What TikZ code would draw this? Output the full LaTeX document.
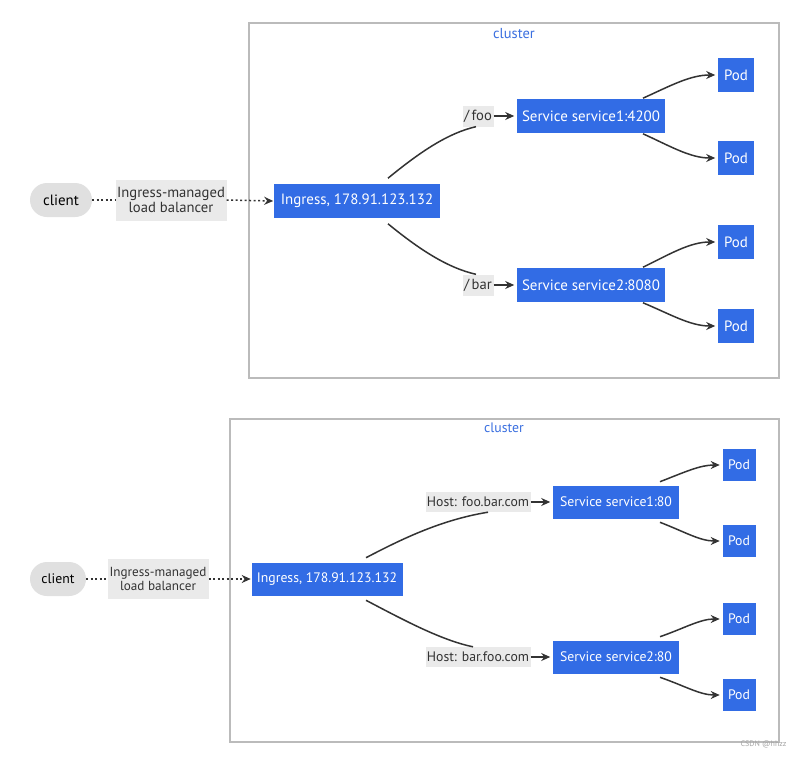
\documentclass[tikz,border=0pt]{standalone}
\usepackage{fontspec}
\setmainfont{PT Sans}
\usetikzlibrary{arrows.meta}
\definecolor{kblue}{HTML}{326CE5}
\definecolor{clabel}{HTML}{3A6FE0}
\definecolor{edgec}{HTML}{333333}
\definecolor{lblbg}{HTML}{EAEAEA}
\definecolor{clientbg}{HTML}{E0E0E0}
\definecolor{clborder}{HTML}{BBBBBB}
\tikzset{
  clusterbox/.style={draw=clborder, line width=1.3bp, fill=white},
  clustertitle/.style={text=clabel, font=\fontsize{14.5}{16}\selectfont},
  kbox/.style={fill=kblue, draw=white, line width=0.6bp, text=white, inner sep=0pt, minimum height=35bp, font=\fontsize{15}{17}\selectfont},
  podbox/.style={kbox, minimum width=37bp},
  clientbox/.style={fill=clientbg, rounded corners=17bp, inner sep=0pt, minimum height=34bp, text=black, font=\fontsize{15}{17}\selectfont},
  elabel/.style={fill=lblbg, inner sep=1bp, text=edgec, font=\fontsize{14.7}{15.5}\selectfont, align=center},
  small/.style={font=\fontsize{13.8}{15}\selectfont},
  smalllbl/.style={font=\fontsize{13.2}{14.5}\selectfont},
  conn/.style={draw=edgec, line width=1.5bp},
  arr/.style={conn, -{Stealth[length=9bp,width=8bp]}},
  dotconn/.style={draw=edgec, line width=1.5bp, dash pattern=on 2bp off 2.5bp},
}
\begin{document}
\begin{tikzpicture}[x=1bp,y=-1bp]
\useasboundingbox (0,0) rectangle (806,757);
\fill[white] (0,0) rectangle (806,757);

% ================= TOP DIAGRAM =================
\draw[clusterbox] (249,23) rectangle (779,378);
\node[clustertitle] (ct1) at (514,34) {cluster};

\node[clientbox, minimum width=62bp] (c1) at (61,200) {client};
\node[elabel, minimum width=111bp, minimum height=41bp] (lb1) at (171,200) {Ingress-managed\\load balancer};
\node[kbox, minimum width=167bp] (ing1) at (357,201) {Ingress, 178.91.123.132};

\node[kbox, minimum width=149bp] (s11) at (591,116) {Service service1:4200};
\node[kbox, minimum width=149bp] (s21) at (591,285) {Service service2:8080};
\node[elabel, minimum width=31bp, minimum height=21bp] (foo) at (478,116) {/\,foo};
\node[elabel, minimum width=31bp, minimum height=21bp] (bar) at (478,285) {/\,bar};

\node[podbox] (p11) at (736,75) {Pod};
\node[podbox] (p12) at (736,158) {Pod};
\node[podbox] (p21) at (736,242) {Pod};
\node[podbox] (p22) at (736,326) {Pod};

\draw[dotconn] (c1.east) -- (lb1.west);
\draw[dotconn, -{Stealth[length=9bp,width=8bp]}] (lb1.east) -- (ing1.west);

\draw[conn] ([xshift=31bp,yshift=5bp]ing1.north) .. controls (420,152) and (448,133) .. ([xshift=-2bp]foo.south);
\draw[arr] (foo.east) -- ([xshift=-2bp]s11.west);
\draw[conn] ([xshift=31bp,yshift=-5bp]ing1.south) .. controls (420,250) and (448,268) .. ([xshift=-2bp]bar.north);
\draw[arr] (bar.east) -- ([xshift=-2bp]s21.west);

\draw[arr] ([xshift=52bp]s11.north) .. controls (670,86) and (690,75) .. ([xshift=-2bp]p11.west);
\draw[arr] ([xshift=52bp]s11.south) .. controls (670,146) and (690,158) .. ([xshift=-2bp]p12.west);
\draw[arr] ([xshift=52bp]s21.north) .. controls (670,254) and (690,242) .. ([xshift=-2bp]p21.west);
\draw[arr] ([xshift=52bp]s21.south) .. controls (670,314) and (690,326) .. ([xshift=-2bp]p22.west);

% ================= BOTTOM DIAGRAM =================
\draw[clusterbox] (230,419) rectangle (779,742);
\node[clustertitle, small] (ct2) at (504,428) {cluster};

\node[clientbox, small, minimum width=56bp] (c2) at (58,579) {client};
\node[elabel, smalllbl, minimum width=101bp, minimum height=40bp] (lb2) at (158,579) {Ingress-managed\\load balancer};
\node[kbox, small, minimum width=152bp, minimum height=34bp] (ing2) at (327,579) {Ingress, 178.91.123.132};

\node[kbox, small, minimum width=127bp, minimum height=34bp] (s12) at (616,502) {Service service1:80};
\node[kbox, small, minimum width=127bp, minimum height=34bp] (s22) at (616,657) {Service service2:80};
\node[elabel, small, minimum width=105bp, minimum height=20bp] (hfoo) at (478,502) {Host: foo.bar.com};
\node[elabel, small, minimum width=105bp, minimum height=20bp] (hbar) at (478,657) {Host: bar.foo.com};

\node[podbox, small, minimum width=34bp, minimum height=33bp] (q11) at (739,465) {Pod};
\node[podbox, small, minimum width=34bp, minimum height=33bp] (q12) at (739,541) {Pod};
\node[podbox, small, minimum width=34bp, minimum height=33bp] (q21) at (739,619) {Pod};
\node[podbox, small, minimum width=34bp, minimum height=33bp] (q22) at (739,695) {Pod};

\draw[dotconn] (c2.east) -- (lb2.west);
\draw[dotconn, -{Stealth[length=9bp,width=8bp]}] (lb2.east) -- (ing2.west);

\draw[conn] ([xshift=39bp,yshift=4bp]ing2.north) .. controls (400,540) and (440,520) .. ([xshift=10bp]hfoo.south);
\draw[arr] (hfoo.east) -- ([xshift=-2bp]s12.west);
\draw[conn] ([xshift=39bp,yshift=-4bp]ing2.south) .. controls (400,618) and (440,640) .. ([xshift=-5bp]hbar.north);
\draw[arr] (hbar.east) -- ([xshift=-2bp]s22.west);

\draw[arr] ([xshift=44bp,yshift=3bp]s12.north) .. controls (685,472) and (700,465) .. ([xshift=-2bp]q11.west);
\draw[arr] ([xshift=44bp,yshift=-3bp]s12.south) .. controls (685,532) and (700,541) .. ([xshift=-2bp]q12.west);
\draw[arr] ([xshift=44bp,yshift=3bp]s22.north) .. controls (685,628) and (700,619) .. ([xshift=-2bp]q21.west);
\draw[arr] ([xshift=44bp,yshift=-3bp]s22.south) .. controls (685,686) and (700,695) .. ([xshift=-2bp]q22.west);

\node[text=gray!70, font=\fontsize{8}{9}\selectfont, anchor=east] (wm) at (790,744) {CSDN @hhzz};
\end{tikzpicture}
\end{document}
